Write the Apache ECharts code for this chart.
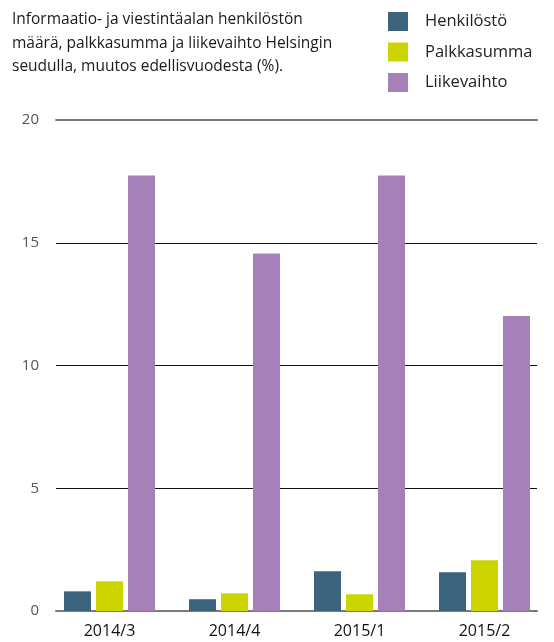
<!DOCTYPE html>
<html><head><meta charset="utf-8">
<script src="https://cdn.jsdelivr.net/npm/echarts@6/dist/echarts.min.js"></script>
<style>html,body{margin:0;padding:0;background:#fff}#c{width:554px;height:642px}</style>
</head><body><div id="c"></div>
<script>
const categories = ['2014/3', '2014/4', '2015/1', '2015/2'];
const henkilosto = [0.80, 0.48, 1.62, 1.58];
const palkkasumma = [1.21, 0.72, 0.68, 2.07];
const liikevaihto = [17.74, 14.56, 17.74, 12.02];
const seriesNames = ['Henkilöstö', 'Palkkasumma', 'Liikevaihto'];
const yTicks = { min: 0, max: 20, interval: 5 };
const titleText = 'Informaatio- ja viestintäalan henkilöstön\nmäärä, palkkasumma ja liikevaihto Helsingin\nseudulla, muutos edellisvuodesta (%).';

const FONT = 'Open Sans';
const chart = echarts.init(document.getElementById('c'), null, { renderer: 'canvas' });
chart.setOption({
  animation: false,
  color: ['#3c637c', '#ccd500', '#a680b9'],
  title: {
    text: titleText, left: 12, top: 8, padding: 0,
    textStyle: { fontFamily: FONT, fontSize: 15.5, fontWeight: 'normal', color: '#1a1a1a', lineHeight: 23.5 }
  },
  legend: {
    orient: 'vertical', left: 388, top: 12, padding: 0, itemWidth: 20, itemHeight: 19, itemGap: 11.5,
    icon: 'rect', data: seriesNames,
    textStyle: { fontFamily: FONT, fontSize: 16.5, color: '#222', padding: [0, 0, 0, 12] }
  },
  grid: [
    { left: 56, right: 17, top: 120, bottom: 31 },
    { left: 47, right: 7, top: 120, bottom: 31 }
  ],
  xAxis: [
    { type: 'category', gridIndex: 0, data: categories, position: 'bottom',
      axisLine: { show: true, lineStyle: { color: '#7a7a7a', width: 2 } },
      axisTick: { show: false }, axisLabel: { show: false } },
    { type: 'category', gridIndex: 0, data: categories, position: 'top',
      axisLine: { show: true, lineStyle: { color: '#7a7a7a', width: 2 } },
      axisTick: { show: false }, axisLabel: { show: false } },
    { type: 'category', gridIndex: 1, data: categories,
      axisLine: { show: false }, axisTick: { show: false },
      axisLabel: { fontFamily: FONT, fontSize: 16, color: '#111', margin: 12 } }
  ],
  yAxis: [
    { type: 'value', gridIndex: 0, min: yTicks.min, max: yTicks.max, interval: yTicks.interval,
      axisLine: { show: false }, axisTick: { show: false },
      axisLabel: { fontFamily: FONT, fontSize: 15, color: '#555', margin: 17 },
      splitLine: { show: true, showMinLine: false, showMaxLine: false, lineStyle: { color: '#111', width: 1 } } },
    { type: 'value', gridIndex: 1, min: yTicks.min, max: yTicks.max, interval: yTicks.interval,
      show: false, splitLine: { show: false } }
  ],
  series: [
    { name: seriesNames[0], type: 'bar', xAxisIndex: 2, yAxisIndex: 1, data: henkilosto, barWidth: 27, barGap: '18.5%' },
    { name: seriesNames[1], type: 'bar', xAxisIndex: 2, yAxisIndex: 1, data: palkkasumma, barWidth: 27, barGap: '18.5%' },
    { name: seriesNames[2], type: 'bar', xAxisIndex: 2, yAxisIndex: 1, data: liikevaihto, barWidth: 27, barGap: '18.5%' }
  ]
});
</script></body></html>
